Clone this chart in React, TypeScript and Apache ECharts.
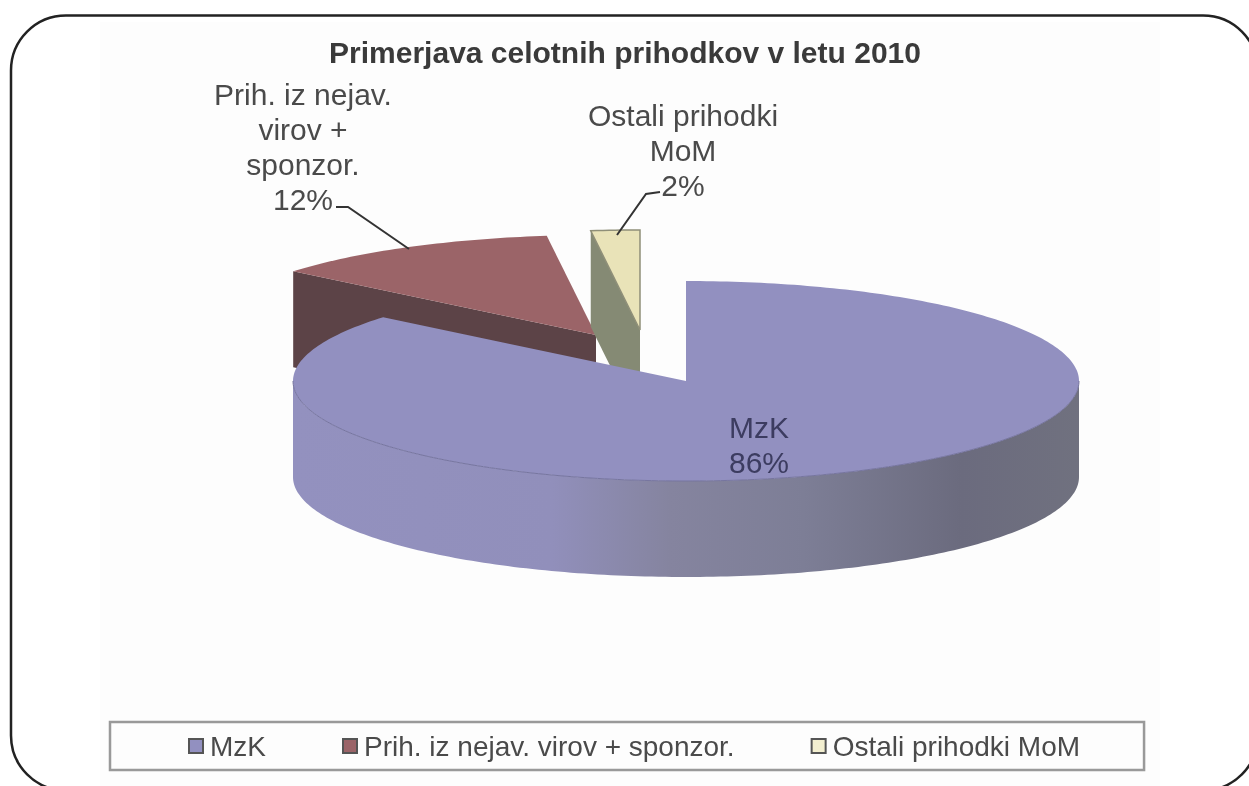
import React, { useEffect, useRef } from "react";
import * as echarts from "echarts";

const titleText = "Primerjava celotnih prihodkov v letu 2010";
const categories = ["MzK", "Prih. iz nejav. virov + sponzor.", "Ostali prihodki MoM"];
const percents = [86, 12, 2];
const labelLines = [["MzK"], ["Prih. iz nejav.", "virov +", "sponzor."], ["Ostali prihodki", "MoM"]];

const FONT = "'Liberation Sans', Arial, sans-serif";
const CX = 686, CY = 381, RX = 393, RY = 100, DEPTH = 96;
const explode = [[0, 0], [-90, -46], [-46, -51]];
const topColors = ["#9290c0", "#9b6468", "#e9e3b8"];
const legendColors = ["#9290c0", "#9b6468", "#f3efd0"];
const wallColors = ["#8a89aa", "#5c4347", "#858a74"];
const topStrokes = ["none", "none", "#8f8f78"];
const labelCenters = [[759, 445], [303, 147], [683, 150]];
const leaders = [
  null,
  [[336, 207], [348, 207], [409, 249]],
  [[660, 192], [646, 194], [617, 235]],
];

const starts = percents.map((_, i) => percents.slice(0, i).reduce((a, b) => a + b, 0));

function App() {
  const ref = useRef<HTMLDivElement>(null);
  useEffect(() => {
    const chart = echarts.init(ref.current!, null, { renderer: "svg" });
    const pt = (i: number, deg: number, dy = 0) => {
      const t = (deg * Math.PI) / 180;
      return [
        CX + explode[i][0] + RX * Math.sin(t),
        CY + explode[i][1] - RY * Math.cos(t) + dy,
      ];
    };
    const arc = (i: number, a: number, b: number, dy = 0) => {
      const out: number[][] = [];
      const n = Math.max(2, Math.ceil(Math.abs(b - a)));
      for (let k = 0; k <= n; k++) out.push(pt(i, a + ((b - a) * k) / n, dy));
      return out;
    };
    const blueWall = new echarts.graphic.LinearGradient(0, 0, 1, 0, [
      { offset: 0, color: "#9391bf" },
      { offset: 0.33, color: "#918fbb" },
      { offset: 0.48, color: "#85849f" },
      { offset: 0.65, color: "#7d7e96" },
      { offset: 0.85, color: "#6b6b7e" },
      { offset: 1, color: "#70717f" },
    ]);
    const renderSlice = (i: number) => (_params: any, api: any) => {
      const value = api.value(0);
      const a = (starts[i] / 100) * 360;
      const b = a + (value / 100) * 360;
      const apex = [CX + explode[i][0], CY + explode[i][1]];
      const children: any[] = [];
      const wallLo = Math.max(a, 90), wallHi = Math.min(b, 270);
      const extrude = (p: number[]) => [p[0], p[1] + DEPTH];
      if (Math.sin((a * Math.PI) / 180) < -1e-6) {
        const c = pt(i, a);
        children.push({
          type: "polygon",
          shape: { points: [c, apex, extrude(apex), extrude(c)] },
          style: { fill: wallColors[i] },
        });
      }
      if (wallHi > wallLo) {
        const up = arc(i, wallLo, wallHi);
        const down = arc(i, wallHi, wallLo, DEPTH);
        children.push({
          type: "polygon",
          shape: { points: [...up, ...down] },
          style: { fill: i === 0 ? blueWall : wallColors[i] },
        });
      }
      children.push({
        type: "polygon",
        shape: { points: [apex, ...arc(i, a, b)] },
        style: { fill: topColors[i], stroke: topStrokes[i], lineWidth: 1.5 },
      });
      if (wallHi > wallLo) {
        children.push({
          type: "polyline",
          shape: { points: arc(i, wallLo, wallHi) },
          style: { stroke: "#76759f", lineWidth: 1, fill: "none" },
        });
      }
      if (leaders[i]) {
        children.push({
          type: "polyline",
          shape: { points: leaders[i] },
          style: { stroke: "#333", lineWidth: 2, fill: "none" },
        });
      }
      children.push({
        type: "text",
        x: labelCenters[i][0],
        y: labelCenters[i][1],
        style: {
          text: [...labelLines[i], `${value}%`].join("\n"),
          fontFamily: FONT,
          fontSize: 30,
          lineHeight: 35,
          fill: i === 0 ? "#3c3c60" : "#4a4a4a",
          align: "center",
          verticalAlign: "middle",
        },
      });
      return { type: "group", children };
    };
    const drawOrder = [1, 2, 0];
    chart.setOption({
      animation: false,
      backgroundColor: "#ffffff",
      title: {
        text: titleText,
        left: 625,
        top: 32,
        textAlign: "center",
        textStyle: { fontFamily: FONT, fontSize: 30, fontWeight: "bold", color: "#3a3a3a" },
        padding: [5, 10, 5, 0],
      },
      legend: {
        left: 110,
        top: 722,
        data: categories,
        icon: "rect",
        itemWidth: 14,
        itemHeight: 14,
        itemGap: 76,
        padding: [10, 64, 10, 78],
        borderColor: "#999",
        borderWidth: 2.5,
        selectedMode: false,
        textStyle: { fontFamily: FONT, fontSize: 28, color: "#4a4a4a", padding: [0, 0, 0, 2] },
      },
      graphic: [
        {
          type: "rect",
          z: -10,
          shape: { x: 100, y: 22, width: 1060, height: 764 },
          style: { fill: "#fdfdfd" },
        },
        {
          type: "rect",
          z: -9,
          shape: { x: 11, y: 15.5, width: 1247, height: 775, r: 55 },
          style: { fill: "none", stroke: "#222", lineWidth: 2.5 },
        },
      ],
      series: drawOrder.map((i) => ({
        type: "custom",
        name: categories[i],
        coordinateSystem: "none",
        silent: true,
        itemStyle: { color: legendColors[i], borderColor: "#555", borderWidth: 2 },
        data: [[percents[i]]],
        renderItem: renderSlice(i),
      })),
    });
    return () => chart.dispose();
  }, []);
  return (
    <div
      ref={ref}
      style={{ position: "fixed", left: 0, top: 0, width: 1249, height: 786, filter: "blur(0.5px)" }}
    />
  );
}

export default App;
